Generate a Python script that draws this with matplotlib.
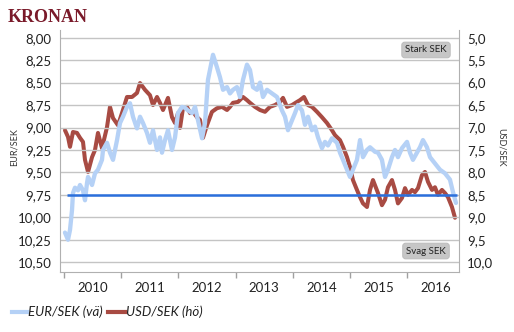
import matplotlib
matplotlib.use("Agg")
import matplotlib.pyplot as plt
from matplotlib.lines import Line2D

plt.rcParams['font.family'] = ['Lato', 'DejaVu Sans']

# ---- data (decimal years) ----
eur_t = [2010.017, 2010.070, 2010.105, 2010.140, 2010.157, 2010.192, 2010.245, 2010.280, 2010.332, 2010.367,
         2010.402, 2010.420, 2010.490, 2010.542, 2010.594, 2010.664, 2010.682, 2010.752, 2010.804, 2010.857,
         2010.927, 2010.979, 2011.031, 2011.101, 2011.154, 2011.206, 2011.276, 2011.329, 2011.381, 2011.451,
         2011.503, 2011.556, 2011.626, 2011.678, 2011.713, 2011.766, 2011.818, 2011.888, 2011.941, 2011.993,
         2012.063, 2012.115, 2012.168, 2012.238, 2012.290, 2012.343, 2012.413, 2012.465, 2012.517, 2012.605,
         2012.675, 2012.727, 2012.780, 2012.850, 2012.902, 2012.955, 2013.024, 2013.077, 2013.129, 2013.199,
         2013.252, 2013.304, 2013.374, 2013.427, 2013.479, 2013.549, 2013.636, 2013.724, 2013.811, 2013.864,
         2013.916, 2013.986, 2014.038, 2014.091, 2014.161, 2014.213, 2014.266, 2014.336, 2014.388, 2014.441,
         2014.510, 2014.563, 2014.615, 2014.685, 2014.773, 2014.825, 2014.878, 2014.948, 2015.000, 2015.052,
         2015.122, 2015.175, 2015.227, 2015.297, 2015.350, 2015.437, 2015.490, 2015.559, 2015.612, 2015.664,
         2015.734, 2015.787, 2015.839, 2015.909, 2015.997, 2016.049, 2016.101, 2016.171, 2016.224, 2016.276,
         2016.346, 2016.399, 2016.486, 2016.573, 2016.661, 2016.748, 2016.801, 2016.853]
eur_v = [10.17, 10.25, 10.14, 9.92, 9.73, 9.67, 9.70, 9.64, 9.70, 9.81,
         9.62, 9.55, 9.64, 9.51, 9.47, 9.36, 9.25, 9.17, 9.28, 9.36,
         9.14, 8.95, 8.88, 8.77, 8.73, 8.88, 9.01, 8.88, 8.95, 9.06,
         9.17, 9.03, 9.25, 9.11, 9.28, 9.14, 9.03, 9.25, 9.11, 8.84,
         8.77, 8.78, 8.81, 8.84, 8.77, 8.92, 9.12, 8.95, 8.47, 8.19,
         8.33, 8.44, 8.58, 8.55, 8.62, 8.58, 8.55, 8.66, 8.47, 8.30,
         8.36, 8.55, 8.58, 8.50, 8.66, 8.58, 8.62, 8.66, 8.81, 8.88,
         9.03, 8.92, 8.84, 8.75, 8.81, 8.97, 8.88, 9.03, 8.99, 9.11,
         9.23, 9.16, 9.20, 9.12, 9.17, 9.28, 9.36, 9.47, 9.55, 9.47,
         9.36, 9.14, 9.33, 9.25, 9.22, 9.27, 9.28, 9.36, 9.55, 9.47,
         9.33, 9.25, 9.33, 9.23, 9.16, 9.28, 9.36, 9.28, 9.22, 9.14,
         9.22, 9.33, 9.40, 9.47, 9.51, 9.58, 9.72, 9.84]

usd_t = [2010.017, 2010.070, 2010.105, 2010.157, 2010.227, 2010.280, 2010.332, 2010.367, 2010.420, 2010.490,
         2010.542, 2010.594, 2010.664, 2010.752, 2010.804, 2010.857, 2010.944, 2011.031, 2011.101, 2011.189,
         2011.276, 2011.329, 2011.416, 2011.503, 2011.556, 2011.626, 2011.678, 2011.731, 2011.818, 2011.888,
         2011.941, 2011.993, 2012.028, 2012.080, 2012.150, 2012.203, 2012.255, 2012.325, 2012.378, 2012.430,
         2012.500, 2012.587, 2012.675, 2012.762, 2012.850, 2012.902, 2012.955, 2013.042, 2013.129, 2013.199,
         2013.252, 2013.339, 2013.427, 2013.514, 2013.601, 2013.689, 2013.776, 2013.829, 2013.899, 2013.986,
         2014.073, 2014.126, 2014.196, 2014.266, 2014.336, 2014.423, 2014.510, 2014.598, 2014.685, 2014.738,
         2014.825, 2014.878, 2014.948, 2015.000, 2015.052, 2015.122, 2015.175, 2015.227, 2015.297, 2015.350,
         2015.402, 2015.490, 2015.559, 2015.612, 2015.664, 2015.734, 2015.787, 2015.839, 2015.909, 2015.962,
         2016.014, 2016.084, 2016.136, 2016.189, 2016.259, 2016.311, 2016.364, 2016.434, 2016.486, 2016.538,
         2016.608, 2016.661, 2016.713, 2016.783, 2016.836]
usd_v = [7.06, 7.21, 7.43, 7.10, 7.12, 7.23, 7.32, 7.72, 7.99, 7.66,
         7.50, 7.12, 7.46, 6.99, 6.54, 6.79, 6.95, 6.61, 6.32, 6.32,
         6.23, 6.01, 6.16, 6.28, 6.50, 6.32, 6.45, 6.61, 6.34, 6.77,
         6.90, 6.68, 7.01, 6.57, 6.54, 6.68, 6.65, 6.77, 6.83, 7.23,
         6.95, 6.65, 6.57, 6.54, 6.61, 6.54, 6.45, 6.43, 6.32, 6.39,
         6.45, 6.54, 6.61, 6.65, 6.54, 6.50, 6.43, 6.34, 6.54, 6.50,
         6.43, 6.39, 6.32, 6.50, 6.54, 6.65, 6.77, 6.90, 7.06, 7.17,
         7.28, 7.43, 7.66, 7.88, 8.17, 8.39, 8.55, 8.69, 8.77, 8.39,
         8.17, 8.46, 8.73, 8.61, 8.33, 8.17, 8.39, 8.69, 8.57, 8.35,
         8.50, 8.39, 8.44, 8.35, 8.06, 7.99, 8.21, 8.39, 8.33, 8.50,
         8.39, 8.46, 8.55, 8.77, 9.01]

ref_level = 9.75
ref_span = [2010.05, 2016.87]
years = [2010, 2011, 2012, 2013, 2014, 2015, 2016]
left_ticks = [8.00, 8.25, 8.50, 8.75, 9.00, 9.25, 9.50, 9.75, 10.00, 10.25, 10.50]
right_ticks = [5.0, 5.5, 6.0, 6.5, 7.0, 7.5, 8.0, 8.5, 9.0, 9.5, 10.0]
legend_labels = ['EUR/SEK (vä)', 'USD/SEK (hö)']

BLUE = '#b5d1f6'
RED = '#a84b43'
GRID = '#c4c4c4'

fig = plt.figure(figsize=(5.14, 3.32), dpi=100)
ax = fig.add_axes([60/514, 1-272/332, (459-60)/514, (272-30)/332])
ax2 = ax.twinx()

ylo, yhi = 7.914, 10.609
ax.set_ylim(yhi, ylo)
ax2.set_ylim(2*yhi-11, 2*ylo-11)
ax.set_xlim(2009.93, 2016.906)

for v in left_ticks:
    ax.axhline(v, color=GRID, lw=1.0, zorder=0)

ax.plot(eur_t, eur_v, color=BLUE, lw=3.1, solid_joinstyle='round', solid_capstyle='round', zorder=3)
ax2.plot(usd_t, usd_v, color=RED, lw=2.9, solid_joinstyle='round', solid_capstyle='round', zorder=2)
ax.set_zorder(ax2.get_zorder()+1)
ax.patch.set_visible(False)
ax.hlines(ref_level, ref_span[0], ref_span[1], color='#2a6fdc', lw=1.8, zorder=5)

ax.set_yticks(left_ticks)
ax.set_yticklabels([f"{v:.2f}".replace('.', ',') for v in left_ticks], fontsize=9.5, color='#222222')
ax.tick_params(axis='y', length=0, pad=6)
ax2.set_yticks(right_ticks)
ax2.set_yticklabels([f"{v:.1f}".replace('.', ',') for v in right_ticks], fontsize=9.5, color='#222222')
ax2.tick_params(axis='y', length=0, pad=6)

ax.set_xticks(years)
ax.set_xticklabels([])
ax.tick_params(axis='x', which='major', length=4, color='#a0a0a0', width=1)
ax.set_xticks([y+0.5 for y in years], minor=True)
ax.set_xticklabels([str(y) for y in years], minor=True, fontsize=9.5, color='#222222')
ax.tick_params(axis='x', which='minor', length=0, pad=7)

for a in (ax, ax2):
    a.spines['top'].set_visible(False)
    for s in ('left', 'right', 'bottom'):
        a.spines[s].set_color('#b0b0b0')
ax2.spines['left'].set_visible(False)
ax2.spines['bottom'].set_visible(False)
ax.spines['right'].set_visible(False)

fig.text(14/514, 1-147/332, 'EUR/SEK', rotation=90, fontsize=6.5, ha='center', va='center', color='#333333')
fig.text(501/514, 1-147/332, 'USD/SEK', rotation=270, fontsize=6.5, ha='center', va='center', color='#333333')

fig.text(8/514, 1-17/332, 'KRONAN', family='Liberation Serif', fontweight='bold', fontsize=13,
         color='#7a1a2a', ha='left', va='center')

for txt, yc in (('Stark SEK', 50), ('Svag SEK', 251)):
    fig.text(426/514, 1-yc/332, txt, fontsize=7, ha='center', va='center', color='#222222',
             bbox=dict(boxstyle='round,pad=0.35,rounding_size=0.3', fc='#c6c6c6', ec='#b8b8b8', lw=0.6))

# legend (manual placement)
ly = 1-312/332
for (x0, x1, tx), col, lab in zip(((12, 27, 28), (108, 125, 126)), (BLUE, RED), legend_labels):
    fig.add_artist(Line2D([x0/514, x1/514], [ly, ly], color=col, lw=3, transform=fig.transFigure))
    fig.text(tx/514, ly, lab, fontsize=9.5, style='italic', ha='left', va='center', color='#222222')

fig.savefig('out.png', dpi=100)
